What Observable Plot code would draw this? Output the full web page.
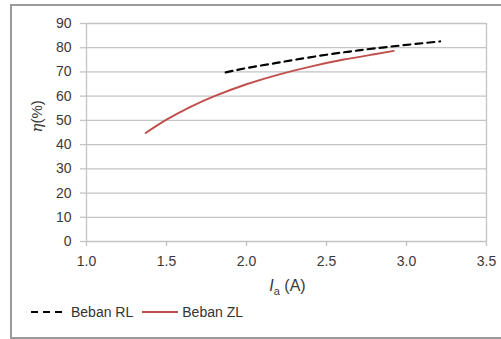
<!DOCTYPE html>
<html>
<head>
<meta charset="utf-8">
<script src="https://cdn.jsdelivr.net/npm/d3@7"></script>
<script src="https://cdn.jsdelivr.net/npm/@observablehq/plot@0.6"></script>
<style>
  html, body { margin: 0; padding: 0; background: #fff; }
  body { width: 501px; height: 339px; position: relative; overflow: hidden; font-family: "Liberation Sans", Arial, sans-serif; }
  #frame { position: absolute; left: 10px; top: 4px; width: 540px; height: 335px; border: 2px solid #9a9a9a; box-sizing: border-box; }
  #chart { position: absolute; left: 0; top: 0; }
  #legend { position: absolute; left: 30px; top: 304px; display: flex; align-items: center; font-size: 14px; color: #333; }
  #legend .item { display: flex; align-items: center; margin-right: 8px; }
  #legend svg { margin-right: 3px; }
</style>
</head>
<body>
<div id="frame"></div>
<div id="chart"></div>
<div id="legend"></div>
<script>
// Data
const seriesNames = ["Beban RL", "Beban ZL"];
const rlCurrent = [1.87, 2.0, 2.15, 2.3, 2.5, 2.7, 2.92, 3.21];
const rlEfficiency = [69.8, 71.6, 73.3, 75.0, 77.1, 78.9, 80.6, 82.6];
const zlCurrent = [1.37, 1.5, 1.65, 1.8, 2.0, 2.2, 2.4, 2.6, 2.8, 2.92];
const zlEfficiency = [44.8, 50.3, 55.6, 60.0, 64.9, 68.9, 72.2, 75.0, 77.3, 78.7];
const xTicks = [1.0, 1.5, 2.0, 2.5, 3.0, 3.5];
const yTicks = [0, 10, 20, 30, 40, 50, 60, 70, 80, 90];

const rl = rlCurrent.map((x, i) => ({x, y: rlEfficiency[i]}));
const zl = zlCurrent.map((x, i) => ({x, y: zlEfficiency[i]}));

const grid = "#c4c4c4";
const textColor = "#3a3a3a";
const red = "#c0504d";

const chart = Plot.plot({
  width: 501,
  height: 300,
  marginTop: 23,
  marginBottom: 59,
  marginLeft: 86,
  marginRight: 15,
  style: {fontFamily: "'Liberation Sans', Arial, sans-serif", background: "transparent"},
  x: {domain: [1, 3.5]},
  y: {domain: [0, 90]},
  marks: [
    Plot.gridY(yTicks.filter(d => d > 0), {stroke: grid, strokeOpacity: 1, strokeWidth: 1.3}),
    Plot.ruleY([0], {stroke: grid, strokeWidth: 1.3}),
    Plot.ruleX([1, 3.5], {stroke: grid, strokeWidth: 1.3}),
    Plot.axisY({ticks: yTicks, tickSize: 6, tickPadding: 9, fontSize: 14, stroke: grid, strokeWidth: 1.3, color: textColor, label: null, tickFormat: d => String(d)}),
    Plot.axisX({ticks: xTicks, tickSize: 5, tickPadding: 10, fontSize: 14, stroke: grid, strokeWidth: 1.3, color: textColor, label: null, tickFormat: d3.format(".1f")}),
    Plot.line(rl, {x: "x", y: "y", stroke: "#000", strokeWidth: 2.2, strokeDasharray: "7,5", curve: "natural"}),
    Plot.line(zl, {x: "x", y: "y", stroke: red, strokeWidth: 2, curve: "natural"}),
    Plot.text(["XLABEL"], {frameAnchor: "bottom", dx: 1, dy: 49, lineAnchor: "bottom", text: d => d, fontSize: 16, fill: textColor}),
    Plot.text(["YLABEL"], {frameAnchor: "left", dx: -45, rotate: -90, lineAnchor: "bottom", text: d => d, fontSize: 15, fill: textColor})
  ]
});

d3.select(chart).selectAll("text").each(function() {
  const t = this.textContent;
  if (t === "XLABEL") {
    this.innerHTML = '<tspan font-style="italic">I</tspan><tspan font-size="11" dy="4">a</tspan><tspan dy="-4"> (A)</tspan>';
  } else if (t === "YLABEL") {
    this.innerHTML = '<tspan font-style="italic" font-family="DejaVu Serif, serif">η</tspan><tspan>(%)</tspan>';
  }
});

document.getElementById("chart").appendChild(chart);

// Legend
const legend = d3.select("#legend");
const styles = [{stroke: "#000", dash: "7,5", w: 2.2}, {stroke: red, dash: null, w: 2}];
seriesNames.forEach((name, i) => {
  const item = legend.append("div").attr("class", "item");
  const s = item.append("svg").attr("width", 38).attr("height", 10);
  s.append("line").attr("x1", 1).attr("x2", 37).attr("y1", 5).attr("y2", 5)
    .attr("stroke", styles[i].stroke).attr("stroke-width", styles[i].w)
    .attr("stroke-dasharray", styles[i].dash);
  item.append("span").text(name);
});
</script>
</body>
</html>
